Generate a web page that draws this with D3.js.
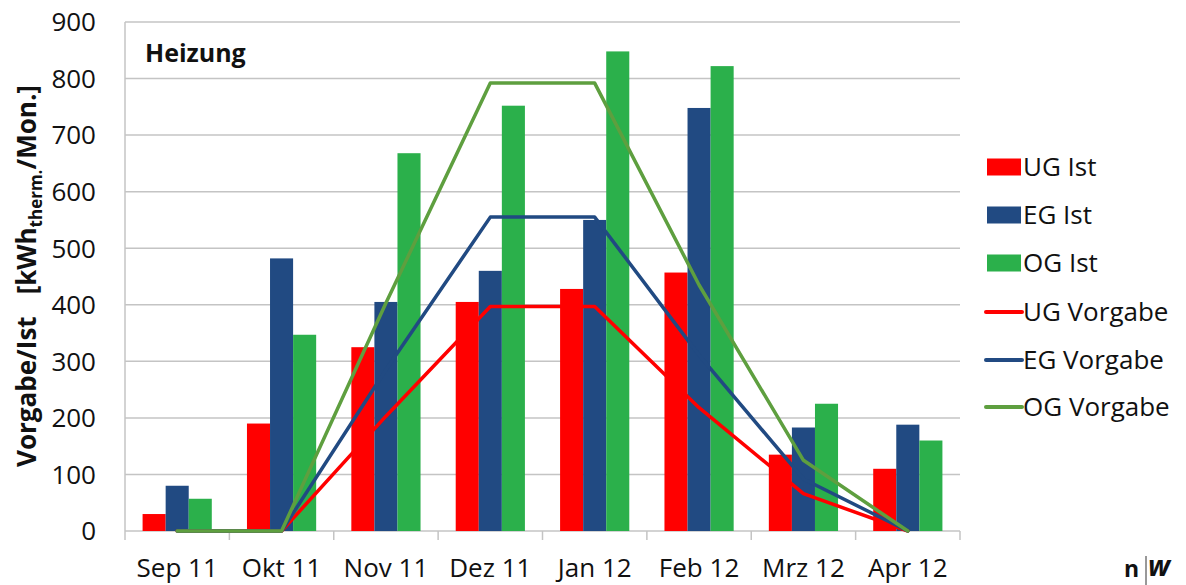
<!DOCTYPE html>
<html><head><meta charset="utf-8">
<script src="https://cdn.jsdelivr.net/npm/d3@7"></script>
<style>body{margin:0;background:#fff}svg{display:block}text{font-family:"Open Sans",Lato,sans-serif}</style>
</head><body><svg id="c" width="1186" height="585"></svg>
<script>
const categories = ["Sep 11","Okt 11","Nov 11","Dez 11","Jan 12","Feb 12","Mrz 12","Apr 12"];
const ugIst = [30,190,325,405,428,457,135,110];
const egIst = [80,482,405,460,550,748,183,188];
const ogIst = [57,347,668,752,848,822,225,160];
const ugVorgabe = [0,0,203,397,397,218,66,0];
const egVorgabe = [0,0,285,555,555,311,92,0];
const ogVorgabe = [0,0,403,792,792,435,125,0];
const yTicks = [0,100,200,300,400,500,600,700,800,900];
const barSeries = [
  {name:"UG Ist", values:ugIst, color:"#FF0000"},
  {name:"EG Ist", values:egIst, color:"#214A82"},
  {name:"OG Ist", values:ogIst, color:"#2BB04B"}
];
const lineSeries = [
  {name:"UG Vorgabe", values:ugVorgabe, color:"#FF0000"},
  {name:"EG Vorgabe", values:egVorgabe, color:"#214A82"},
  {name:"OG Vorgabe", values:ogVorgabe, color:"#5E9F3F"}
];

const svg = d3.select("#c");
const L = 125, R = 960, T = 22, B = 531;
const x = d3.scaleBand().domain(categories).range([L, R]).padding(0);
const y = d3.scaleLinear().domain([0, 900]).range([B, T]);

// gridlines
svg.append("g").selectAll("line").data(yTicks).join("line")
  .attr("x1", L).attr("x2", R).attr("y1", d => y(d)).attr("y2", d => y(d))
  .attr("stroke", "#C4C4C4").attr("stroke-width", 1.5);
// left axis line
svg.append("line").attr("x1", L).attr("x2", L).attr("y1", T).attr("y2", B + 9)
  .attr("stroke", "#C4C4C4").attr("stroke-width", 1.5);
// x tick marks at boundaries
const bounds = categories.map(c => x(c) + x.bandwidth());
svg.append("g").selectAll("line").data(bounds).join("line")
  .attr("x1", d => d).attr("x2", d => d).attr("y1", B).attr("y2", B + 9)
  .attr("stroke", "#C4C4C4").attr("stroke-width", 1.5);

// y tick labels
svg.append("g").selectAll("text").data(yTicks).join("text")
  .attr("x", 96).attr("y", d => y(d)).attr("dy", "0.36em")
  .attr("text-anchor", "end").attr("font-size", 26).attr("fill", "#111")
  .text(d => d);
// x labels
svg.append("g").selectAll("text").data(categories).join("text")
  .attr("x", d => x(d) + x.bandwidth() / 2).attr("y", 577)
  .attr("text-anchor", "middle").attr("font-size", 26).attr("fill", "#111")
  .text(d => d);

// bars
const bw = x.bandwidth() * 0.221;
barSeries.forEach((s, i) => {
  svg.append("g").selectAll("rect").data(s.values).join("rect")
    .attr("x", (d, j) => x(categories[j]) + x.bandwidth() / 2 - 1.5 * bw + i * bw)
    .attr("width", bw)
    .attr("y", d => y(d)).attr("height", d => B - y(d))
    .attr("fill", s.color);
});

// lines
const line = d3.line().x((d, j) => x(categories[j]) + x.bandwidth() / 2).y(d => y(d));
lineSeries.forEach(s => {
  svg.append("path").datum(s.values).attr("d", line)
    .attr("fill", "none").attr("stroke", s.color).attr("stroke-width", 3.5)
    .attr("stroke-linejoin", "round").attr("stroke-linecap", "round");
});

// Heizung label
svg.append("text").attr("x", 145).attr("y", 62).attr("font-size", 25)
  .attr("font-weight", "bold").attr("fill", "#111").text("Heizung");

// y axis title
const yt = svg.append("text").attr("transform", "translate(36,276) rotate(-90)")
  .attr("text-anchor", "middle").attr("font-size", 26).attr("font-weight", "bold").attr("fill", "#111");
yt.append("tspan").text("Vorgabe/Ist");
yt.append("tspan").attr("dx", 22).text("[kWh");
yt.append("tspan").attr("font-size", 17).attr("dy", 6).text("therm.");
yt.append("tspan").attr("dy", -6).text("/Mon.]");

// legend
const lg = svg.append("g");
const rowY = [167, 215, 263, 312, 360, 407];
barSeries.forEach((s, i) => {
  lg.append("rect").attr("x", 987).attr("y", rowY[i] - 8.5).attr("width", 34).attr("height", 17).attr("fill", s.color);
  lg.append("text").attr("x", 1023).attr("y", rowY[i]).attr("dy", "0.36em").attr("font-size", 26).attr("fill", "#111").text(s.name);
});
lineSeries.forEach((s, i) => {
  const yy = rowY[i + 3];
  lg.append("line").attr("x1", 986).attr("x2", 1022).attr("y1", yy).attr("y2", yy)
    .attr("stroke", s.color).attr("stroke-width", 4).attr("stroke-linecap", "round");
  lg.append("text").attr("x", 1023).attr("y", yy).attr("dy", "0.36em").attr("font-size", 26).attr("fill", "#111").text(s.name);
});

// logo
const logo = svg.append("g");
logo.append("text").attr("x", 1124).attr("y", 577).attr("font-size", 23).attr("font-weight", "bold")
  .attr("font-family", "DejaVu Sans").attr("fill", "#111").text("n");
logo.append("line").attr("x1", 1146).attr("x2", 1146).attr("y1", 556).attr("y2", 585).attr("stroke", "#333").attr("stroke-width", 1);
logo.append("text").attr("x", 1148).attr("y", 576).attr("font-size", 28).attr("font-style", "italic").attr("font-weight", "bold")
  .attr("font-family", "DejaVu Serif").attr("fill", "#111").text("w");
</script></body></html>
